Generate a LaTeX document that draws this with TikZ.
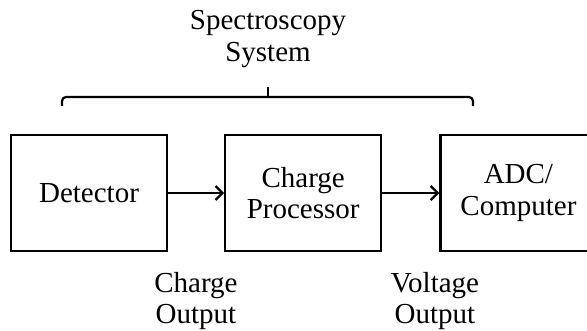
\documentclass[tikz,border=0pt]{standalone}
\usepackage{fontspec}
\setmainfont{Liberation Serif}
\usetikzlibrary{arrows.meta,positioning}

\begin{document}
\begin{tikzpicture}[x=1pt,y=1pt,
  block/.style={draw, line width=2.2pt, minimum width=156pt, minimum height=116pt, inner sep=0pt, align=center},
  lbl/.style={align=center},
  link/.style={line width=2.2pt, -{Straight Barb[length=7pt,width=14pt,line width=2.2pt]}},
  font=\fontsize{29}{31.5}\selectfont]
\useasboundingbox (0,0) rectangle (587,330);
% Blocks
\node[block] (det) at (89,137) {Detector};
\node[block, right=56pt of det] (proc) {Charge\\Processor};
\node[block, right=57pt of proc] (adc) {ADC/\\Computer};
% Signal flow
\draw[link] (det) -- (proc);
\draw[link] (proc) -- (adc);
% Brace over the system
\coordinate (bl) at (62,224);
\coordinate (br) at (473,224);
\coordinate (mid) at (268,233);
\coordinate (tip) at (268,243);
\draw[line width=2.2pt, rounded corners=4pt] (bl) |- (mid) -| (br);
\draw[line width=2.2pt] (mid) -- (tip);
\node[lbl] (sys) at (268,291) {Spectroscopy\\System};
% Signal labels
\node[lbl] (qout) at (196,29) {Charge\\Output};
\node[lbl] (vout) at (435,29) {Voltage\\Output};
\end{tikzpicture}
\end{document}
